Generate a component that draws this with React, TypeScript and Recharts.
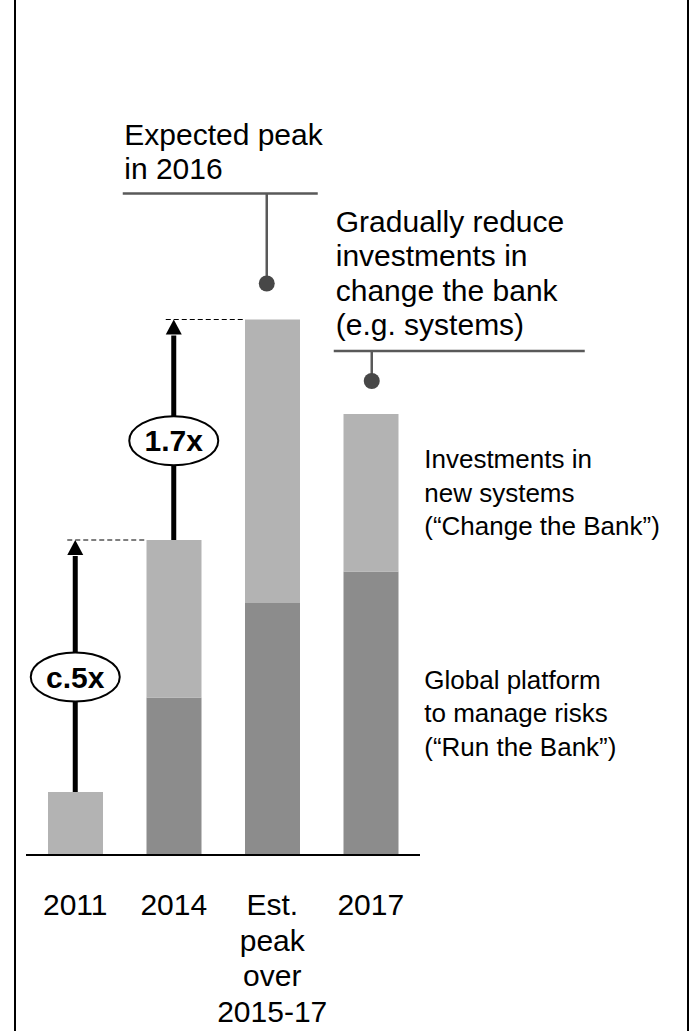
import React from 'react';
import {
  ComposedChart,
  Bar,
  XAxis,
  YAxis,
  ReferenceLine,
  ReferenceDot,
} from 'recharts';

// Categories and tick label lines
const categories = ['2011', '2014', 'Est. peak over 2015-17', '2017'];
const tickLabelLines = [['2011'], ['2014'], ['Est.', 'peak', 'over', '2015-17'], ['2017']];

// Stacked series (relative units, 2011 = 1)
const runTheBank = [0, 2.5, 4.0, 4.5];
const changeTheBank = [1.0, 2.5, 4.5, 2.5];

// Growth multiples between consecutive categories
const growthLabels = ['c.5x', '1.7x'];

// Series labels drawn to the right of the last bar
const changeLabelLines = ['Investments in', 'new systems', '(“Change the Bank”)'];
const runLabelLines = ['Global platform', 'to manage risks', '(“Run the Bank”)'];

// Callout notes
const peakNoteLines = ['Expected peak', 'in 2016'];
const declineNoteLines = ['Gradually reduce', 'investments in', 'change the bank', '(e.g. systems)'];

const data = categories.map((category, i) => ({
  category,
  run: runTheBank[i],
  change: changeTheBank[i],
  total: runTheBank[i] + changeTheBank[i],
}));

const FONT = '"Liberation Sans", Arial, Helvetica, sans-serif';
const DARK = '#8c8c8c';
const LIGHT = '#b3b3b3';
const CALLOUT_LINE = '#595959';
const CALLOUT_DOT = '#474747';
const BAR_SIZE = 55;

const CategoryTick = (props: any) => {
  const { x, y, payload } = props;
  const idx = categories.indexOf(payload.value);
  const lines = idx >= 0 ? tickLabelLines[idx] : [String(payload.value)];
  return (
    <text x={x} y={y} textAnchor="middle" fontFamily={FONT} fontSize={30} fill="#000">
      {lines.map((line, i) => (
        <tspan key={i} x={x} y={y + 60 + i * 35.7}>
          {line}
        </tspan>
      ))}
    </text>
  );
};

const growthArrow = (label: string) => (props: any) => {
  const { x1, y1, y2 } = props;
  const head = 15;
  const shaftTop = y2 + head;
  const badgeY = (y1 + shaftTop) / 2 + 3.5;
  return (
    <g>
      <line x1={x1} y1={y1} x2={x1} y2={shaftTop + 1} stroke="#000" strokeWidth={5} />
      <polygon points={`${x1},${y2} ${x1 - 8},${shaftTop} ${x1 + 8},${shaftTop}`} fill="#000" />
      <ellipse cx={x1} cy={badgeY} rx={44.5} ry={24.5} fill="#fff" stroke="#000" strokeWidth={2} />
      <text
        x={x1}
        y={badgeY + 10.5}
        textAnchor="middle"
        fontFamily={FONT}
        fontWeight="bold"
        fontSize={30}
        fill="#000"
      >
        {label}
      </text>
    </g>
  );
};

const dashedLevel = (props: any) => {
  const { x1, y1, x2 } = props;
  return (
    <line
      x1={x1 - 8}
      y1={y1}
      x2={x2 - BAR_SIZE / 2}
      y2={y1}
      stroke="#000"
      strokeWidth={1.2}
      strokeDasharray="5 3"
    />
  );
};

type CalloutStyle = {
  dotDx: number;
  dotRise: number;
  barRise: number;
  left: number;
  right: number;
  textDx: number;
  lineHeight: number;
  textGap: number;
};

const callout = (lines: string[], s: CalloutStyle) => (props: any) => {
  const { cx, cy } = props;
  const dotX = cx + s.dotDx;
  const dotY = cy - s.dotRise;
  const barY = cy - s.barRise;
  const lastBaseline = barY - s.textGap;
  return (
    <g>
      <line x1={cx + s.left} x2={cx + s.right} y1={barY} y2={barY} stroke={CALLOUT_LINE} strokeWidth={2.5} />
      <line x1={dotX} x2={dotX} y1={barY} y2={dotY} stroke={CALLOUT_LINE} strokeWidth={2.5} />
      <circle cx={dotX} cy={dotY} r={8} fill={CALLOUT_DOT} />
      <text fontFamily={FONT} fontSize={30} fill="#000">
        {lines.map((line, i) => (
          <tspan key={i} x={cx + s.textDx} y={lastBaseline - (lines.length - 1 - i) * s.lineHeight}>
            {line}
          </tspan>
        ))}
      </text>
    </g>
  );
};

// Series name placed beside the middle of a segment of the last bar
const seriesLabel = (lines: string[]) => (props: any) => {
  const { cx, cy } = props;
  const tx = cx + BAR_SIZE / 2 + 26;
  const lh = 33.5;
  return (
    <text fontFamily={FONT} fontSize={26} fill="#000">
      {lines.map((line, i) => (
        <tspan key={i} x={tx} y={cy + 9 + (i - (lines.length - 1) / 2) * lh}>
          {line}
        </tspan>
      ))}
    </text>
  );
};

const last = categories.length - 1;

export default function App() {
  return (
    <div
      style={{
        position: 'absolute',
        left: 0,
        top: 0,
        width: 691,
        height: 1031,
        background: '#fff',
        overflow: 'hidden',
      }}
    >
      <div style={{ position: 'absolute', left: 14, top: 0, width: 2, height: 1031, background: '#000' }} />
      <div style={{ position: 'absolute', left: 687, top: 0, width: 2, height: 1031, background: '#000' }} />
      <div style={{ position: 'absolute', left: 0, top: 0 }}>
        <ComposedChart
          width={691}
          height={1031}
          data={data}
          margin={{ top: 99, right: 271, bottom: 0, left: 26 }}
          barSize={BAR_SIZE}
        >
          <XAxis
            dataKey="category"
            interval={0}
            height={176}
            tickLine={false}
            tickSize={0}
            tickMargin={0}
            axisLine={{ stroke: '#000', strokeWidth: 2 }}
            tick={<CategoryTick />}
          />
          <YAxis hide domain={[0, 12]} type="number" allowDataOverflow />
          <Bar dataKey="run" stackId="cost" fill={DARK} isAnimationActive={false} />
          <Bar dataKey="change" stackId="cost" fill={LIGHT} isAnimationActive={false} />

          {growthLabels.map((label, i) => (
            <ReferenceLine
              key={`dash-${i}`}
              segment={[
                { x: categories[i], y: data[i + 1].total },
                { x: categories[i + 1], y: data[i + 1].total },
              ]}
              shape={dashedLevel}
            />
          ))}
          {growthLabels.map((label, i) => (
            <ReferenceLine
              key={`arrow-${i}`}
              segment={[
                { x: categories[i], y: data[i].total },
                { x: categories[i], y: data[i + 1].total },
              ]}
              shape={growthArrow(label)}
            />
          ))}

          <ReferenceDot
            x={categories[last]}
            y={data[last].run + data[last].change / 2}
            shape={seriesLabel(changeLabelLines)}
          />
          <ReferenceDot
            x={categories[last]}
            y={data[last].run / 2}
            shape={seriesLabel(runLabelLines)}
          />

          <ReferenceDot
            x={categories[2]}
            y={data[2].total}
            shape={callout(peakNoteLines, {
              dotDx: -5.5,
              dotRise: 36,
              barRise: 126,
              left: -149.5,
              right: 45.5,
              textDx: -148,
              lineHeight: 33.5,
              textGap: 15,
            })}
          />
          <ReferenceDot
            x={categories[3]}
            y={data[3].total}
            shape={callout(declineNoteLines, {
              dotDx: 1,
              dotRise: 33,
              barRise: 63,
              left: -37,
              right: 214,
              textDx: -35,
              lineHeight: 34.3,
              textGap: 16,
            })}
          />
        </ComposedChart>
      </div>
    </div>
  );
}
